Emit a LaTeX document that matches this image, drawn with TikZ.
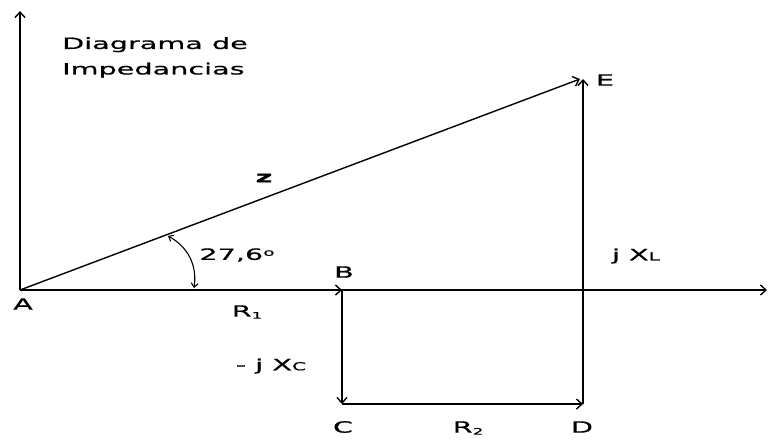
\documentclass[tikz,border=0pt]{standalone}
\usepackage{fontspec}
\setmainfont[FakeStretch=1.85,FakeBold=0.6]{DejaVu Sans}
\usetikzlibrary{arrows.meta}

\begin{document}
\begin{tikzpicture}[x=1pt, y=-1pt,
  vec/.style={line width=1.4pt, -{Straight Barb[length=5.5pt,width=10pt]}},
  lbl/.style={font=\fontsize{15.5}{25.5}\selectfont, inner sep=0pt}
]
  \useasboundingbox (0,0) rectangle (769,440);

  \coordinate (A) at (20,290);
  \coordinate (B) at (342,290);
  \coordinate (C) at (342,404);
  \coordinate (D) at (583,404);
  \coordinate (E) at (583,79);
  \coordinate (ytip) at (20,11);
  \coordinate (xtip) at (767,290);
  \coordinate (ang1) at (168,236);
  \coordinate (ang2) at (194,288);

  \draw[vec] (A) -- (ytip);
  \draw[vec] (A) -- (xtip);
  \draw[vec] (A) -- (B);
  \draw[vec] (B) -- (C);
  \draw[vec] (C) -- (D);
  \draw[vec] (D) -- (E);
  \draw[vec] (A) -- ([xshift=-3pt]E);
  \draw[line width=1.1pt, {Straight Barb[length=4pt,width=7pt]}-{Straight Barb[length=4pt,width=7pt]}]
    (ang1) to[bend left=35] (ang2);

  \node[lbl, align=left, anchor=north west] (title) at (62,37) {Diagrama de\\Impedancias};
  \node[lbl] (lA) at (23,304) {A};
  \node[lbl] (lB) at (344,272) {B};
  \node[lbl] (lC) at (343,427) {C};
  \node[lbl] (lD) at (582,427) {D};
  \node[lbl] (lE) at (605,80) {E};
  \node[lbl] (lz) at (264,178) {\textbf{z}};
  \node[lbl] (lang) at (237,255) {27,6\raisebox{4pt}{\fontsize{10}{10}\selectfont o}};
  \node[lbl] (lR1) at (247,312) {R\raisebox{-2pt}{\small 1}};
  \node[lbl] (lR2) at (468,428) {R\raisebox{-2pt}{\small 2}};
  \node[lbl] (lXC) at (271,366) {- j X{\fontsize{11}{11}\selectfont C}};
  \node[lbl] (lXL) at (636,256) {j X{\fontsize{11}{11}\selectfont L}};
\end{tikzpicture}
\end{document}
